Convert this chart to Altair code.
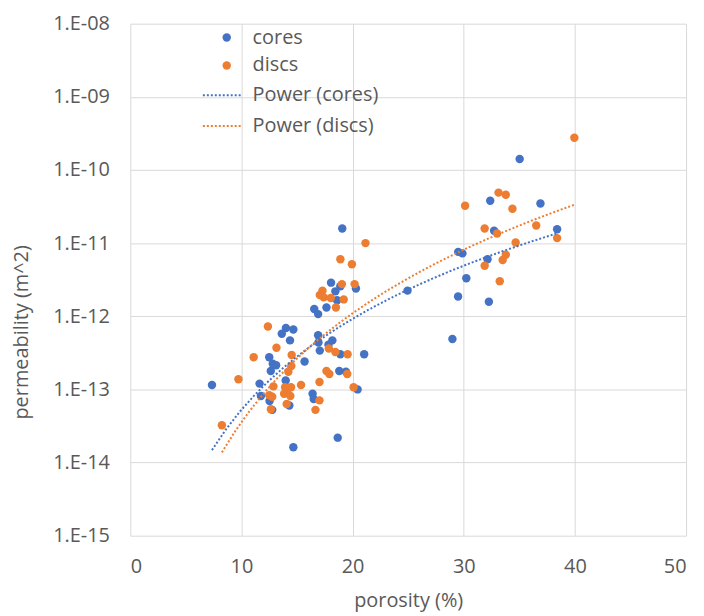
import altair as alt
import pandas as pd

# ---- data ----
cores_porosity = [19.07, 18.06, 18.45, 18.9, 20.3, 18.6, 17.65, 16.55, 16.9, 14.0,
                  14.67, 13.63, 14.37, 16.9, 16.93, 17.05, 18.18, 17.83, 18.9, 21.04,
                  12.5, 12.82, 13.12, 12.64, 15.68, 13.98, 18.8, 19.4, 11.63, 7.35,
                  11.75, 12.53, 12.77, 14.31, 16.4, 16.5, 20.45, 18.66, 14.67,
                  35.03, 32.38, 36.9, 38.4, 32.73, 29.5, 29.88, 32.14, 30.23, 24.94,
                  29.49, 32.26, 28.98]
cores_perm = [1.58e-11, 2.88e-12, 2.19e-12, 2.57e-12, 2.40e-12, 1.66e-12, 1.32e-12, 1.26e-12, 1.07e-12, 6.92e-13,
              6.61e-13, 5.75e-13, 4.68e-13, 5.50e-13, 4.37e-13, 3.39e-13, 4.68e-13, 4.07e-13, 3.02e-13, 3.02e-13,
              2.75e-13, 2.24e-13, 2.14e-13, 1.78e-13, 2.40e-13, 1.32e-13, 1.78e-13, 1.74e-13, 1.20e-13, 1.15e-13,
              8.13e-14, 6.92e-14, 5.25e-14, 6.03e-14, 8.71e-14, 7.41e-14, 1.00e-13, 2.19e-14, 1.62e-14,
              1.41e-10, 3.80e-11, 3.47e-11, 1.55e-11, 1.48e-11, 7.59e-12, 7.24e-12, 6.03e-12, 3.31e-12, 2.24e-12,
              1.86e-12, 1.58e-12, 4.90e-13]

discs_porosity = [21.16, 18.9, 19.94, 19.04, 20.18, 17.29, 17.05, 17.4, 18.04, 19.2,
                  18.5, 12.38, 13.15, 11.1, 14.52, 17.86, 18.45, 19.55, 14.49, 14.22,
                  17.65, 17.91, 19.52, 9.73, 17.02, 15.36, 12.88, 13.93, 14.46, 14.1,
                  13.84, 14.4, 12.5, 12.77, 20.09, 17.02, 14.07, 12.65, 16.66, 8.24,
                  39.95, 33.13, 33.78, 30.12, 34.38, 31.88, 33.0, 36.52, 34.67, 38.4,
                  33.78, 33.5, 31.88, 33.24]
discs_perm = [1.00e-11, 6.03e-12, 5.13e-12, 2.75e-12, 2.75e-12, 2.24e-12, 1.95e-12, 1.82e-12, 1.78e-12, 1.70e-12,
              1.32e-12, 7.24e-13, 3.72e-13, 2.75e-13, 2.95e-13, 3.63e-13, 3.24e-13, 3.02e-13, 2.09e-13, 1.74e-13,
              1.78e-13, 1.62e-13, 1.62e-13, 1.38e-13, 1.26e-13, 1.15e-13, 1.10e-13, 1.07e-13, 1.07e-13, 9.55e-14,
              8.71e-14, 8.13e-14, 8.32e-14, 7.94e-14, 1.07e-13, 7.08e-14, 6.31e-14, 5.37e-14, 5.25e-14, 3.24e-14,
              2.75e-10, 4.90e-11, 4.57e-11, 3.24e-11, 2.95e-11, 1.58e-11, 1.35e-11, 1.74e-11, 1.02e-11, 1.17e-11,
              6.92e-12, 5.89e-12, 4.90e-12, 3.02e-12]

series_names = ["cores", "discs"]
trend_names = ["Power (cores)", "Power (discs)"]
series_colors = ["#4472C4", "#ED7D31"]
x_ticks = [0, 10, 20, 30, 40, 50]
y_ticks = [1e-15, 1e-14, 1e-13, 1e-12, 1e-11, 1e-10, 1e-9, 1e-8]

df = pd.concat([
    pd.DataFrame({"porosity": cores_porosity, "perm": cores_perm, "series": "cores"}),
    pd.DataFrame({"porosity": discs_porosity, "perm": discs_perm, "series": "discs"}),
], ignore_index=True)

FONT = "Open Sans"
GREY = "#595959"

x_enc = alt.X("porosity:Q",
              scale=alt.Scale(domain=[0, 50], nice=False),
              axis=alt.Axis(values=x_ticks, title="porosity (%)", grid=True, domain=False,
                            ticks=False, labelPadding=21, titlePadding=14))
y_enc = alt.Y("perm:Q",
              scale=alt.Scale(type="log", domain=[1e-15, 1e-8], nice=False),
              axis=alt.Axis(values=y_ticks, title="permeability (m^2)", grid=True, domain=False,
                            ticks=False, labelPadding=21,
                            labelExpr="'1.E-' + (round(-log(datum.value)/LN10) < 10 ? '0' : '') + round(-log(datum.value)/LN10)",
                            titleX=-109, titleY=310, titleAngle=270, titleAlign="center",
                            titleBaseline="middle"))

points = alt.Chart(df).mark_circle(size=72, opacity=1).encode(
    x=x_enc, y=y_enc,
    color=alt.Color("series:N",
                    scale=alt.Scale(domain=series_names, range=series_colors),
                    legend=alt.Legend(title=None, orient="none", legendX=87, legendY=4,
                                      symbolType="circle", symbolSize=72, symbolStrokeWidth=0,
                                      labelOffset=16, rowPadding=8, padding=0)),
)

lines = alt.Chart(df).transform_regression(
    "porosity", "perm", method="pow", groupby=["series"]
).transform_calculate(
    trend="'Power (' + datum.series + ')'"
).mark_line(strokeDash=[2, 2], strokeWidth=2).encode(
    x="porosity:Q", y="perm:Q",
    stroke=alt.Stroke("trend:N",
                      scale=alt.Scale(domain=trend_names, range=series_colors),
                      legend=alt.Legend(title=None, orient="none", legendX=72, legendY=51,
                                        symbolType="stroke", symbolSize=1600, symbolStrokeWidth=2,
                                        symbolDash=[2, 2], labelOffset=9, rowPadding=-4, padding=0)),
)

chart = alt.layer(points, lines).resolve_scale(color="independent").properties(
    width=559, height=515,
    autosize="none",
    padding={"left": 123, "top": 14, "right": 10, "bottom": 78},
).configure_view(stroke=None).configure_axis(
    gridColor="#d9d9d9", gridWidth=1,
    labelFont=FONT, labelFontSize=20, labelColor=GREY,
    titleFont=FONT, titleFontSize=20, titleColor=GREY, titleFontWeight="normal",
).configure_legend(
    labelFont=FONT, labelFontSize=20, labelColor=GREY,
)

chart.save("out.html", embed_options={"renderer": "svg", "actions": False})
